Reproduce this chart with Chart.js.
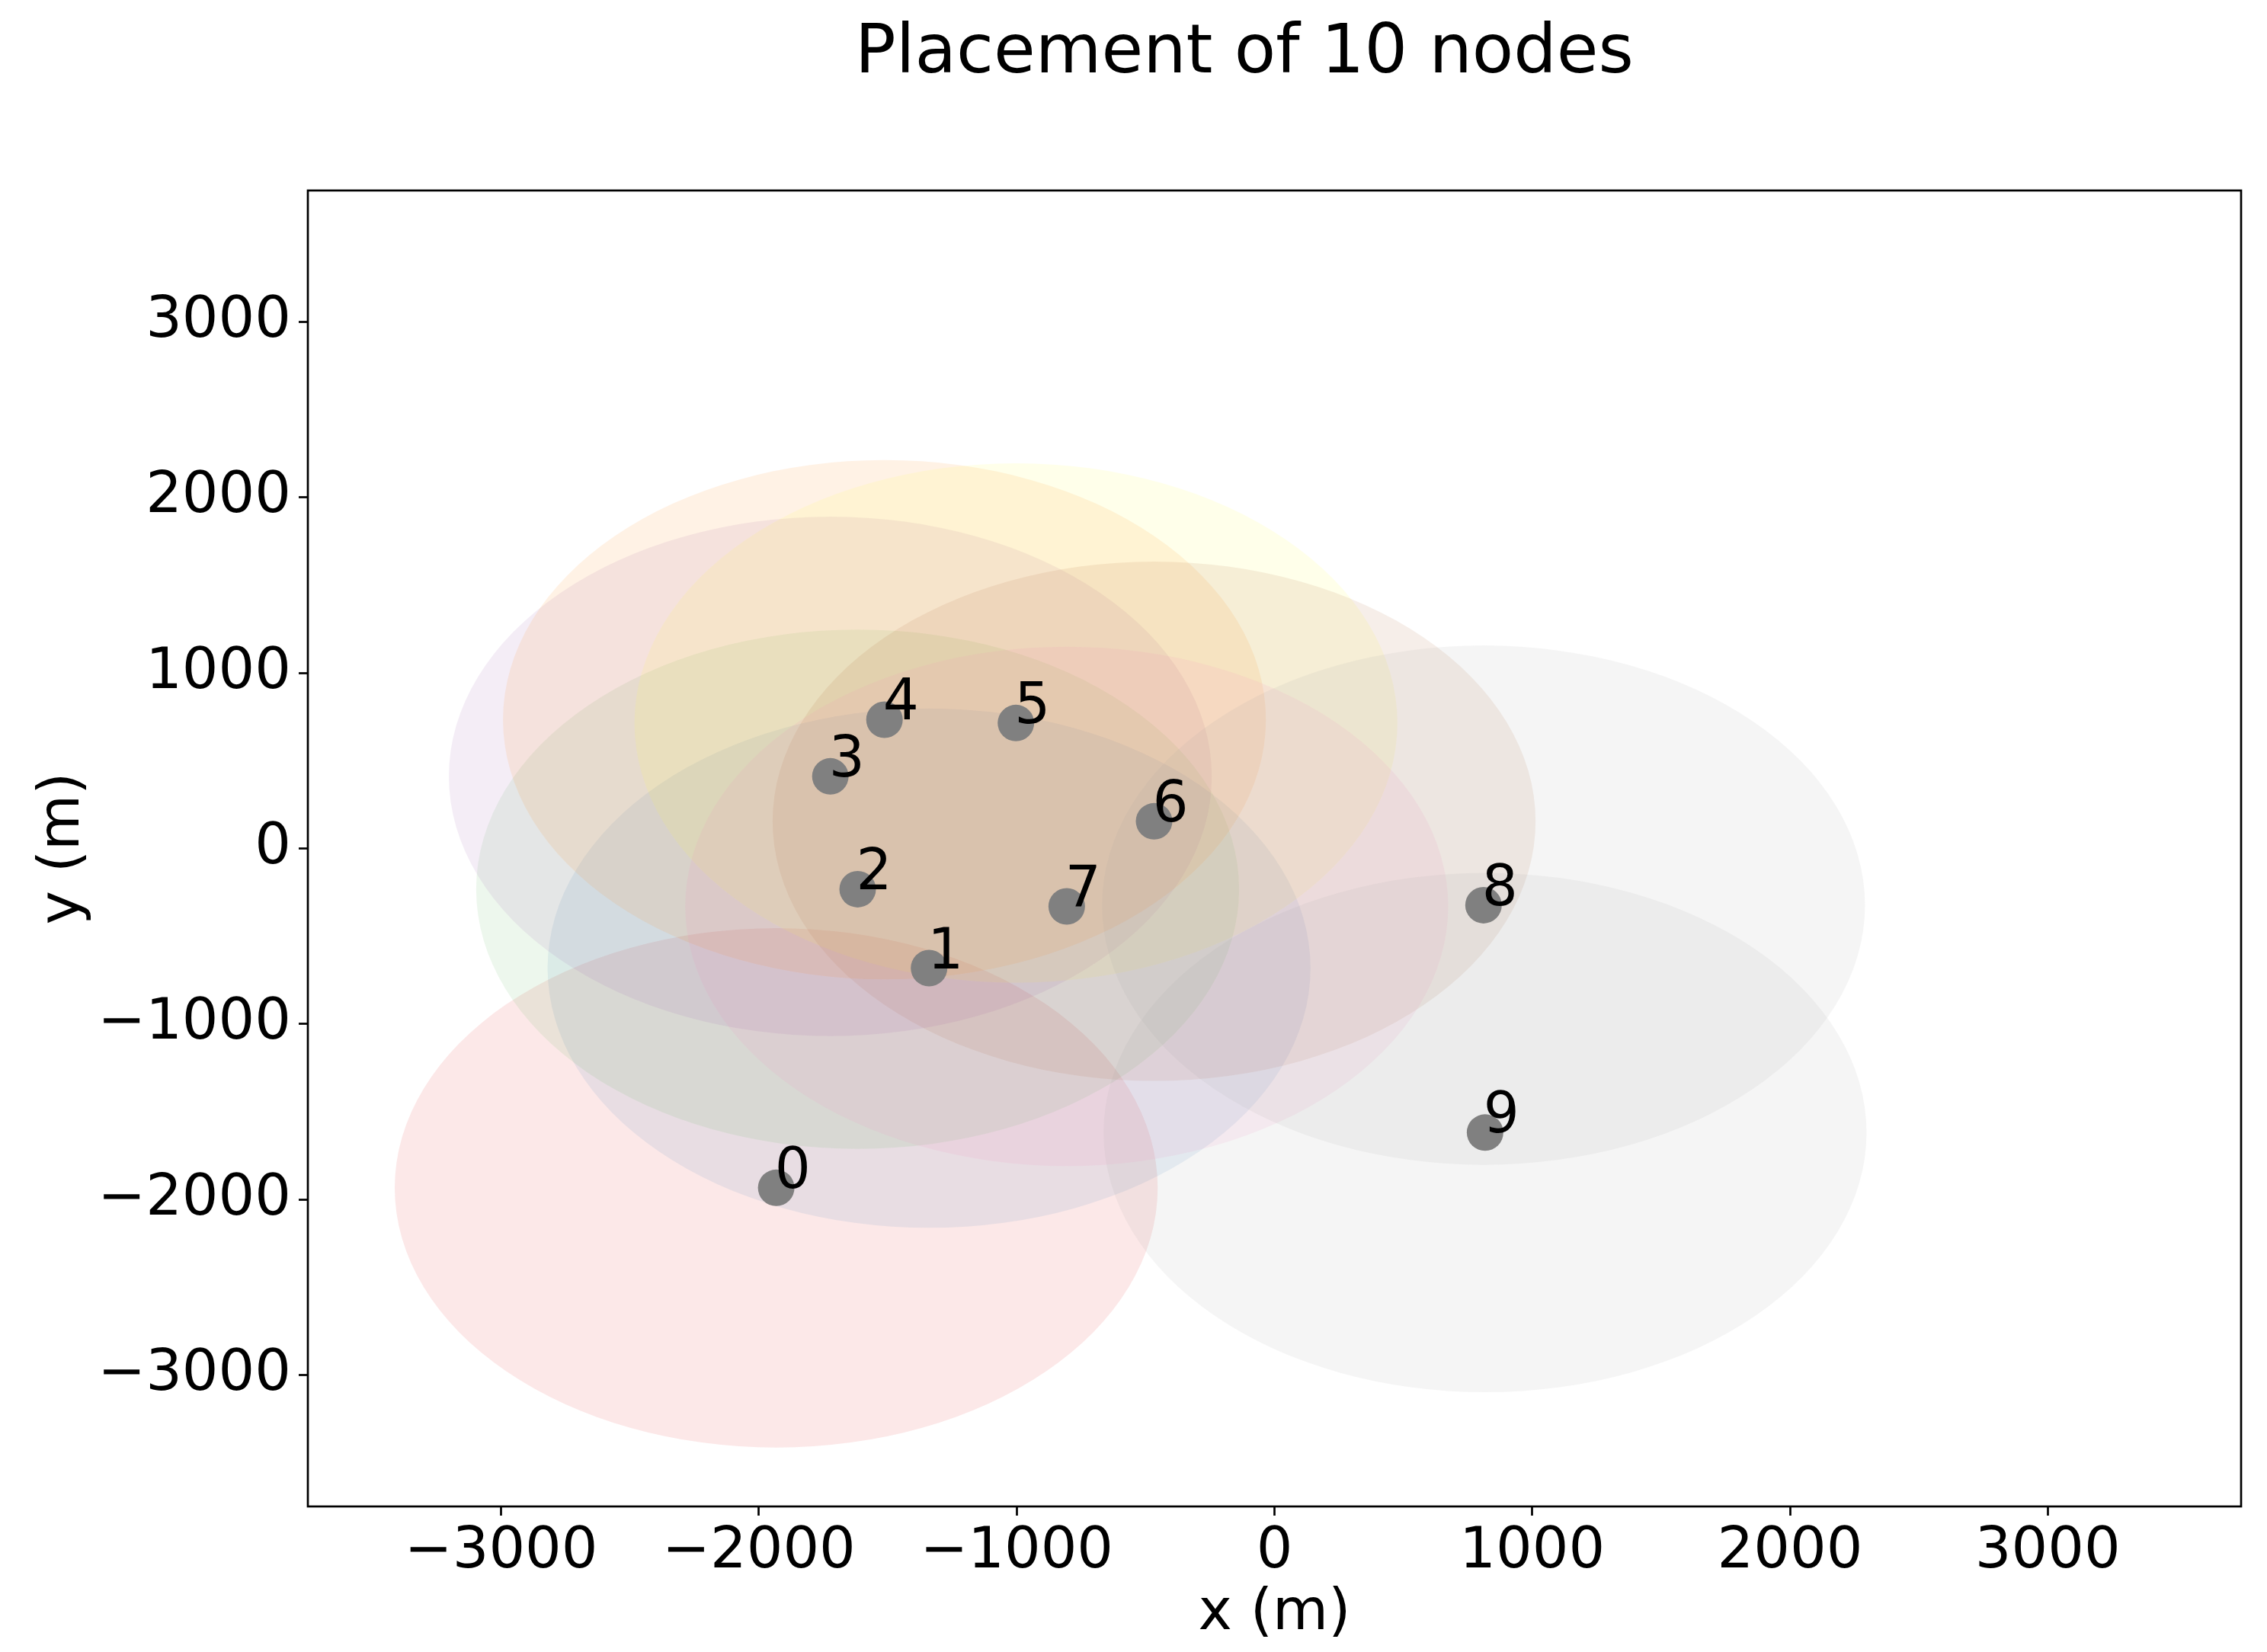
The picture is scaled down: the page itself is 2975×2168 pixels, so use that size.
<!DOCTYPE html>
<html>
<head>
<meta charset="utf-8">
<title>Placement of 10 nodes</title>
<script src="https://cdn.jsdelivr.net/npm/chart.js@4.4.1/dist/chart.umd.min.js"></script>
<style>
  html, body { margin: 0; padding: 0; background: #ffffff; }
  #chart { display: block; }
</style>
</head>
<body>
<canvas id="chart" width="2975" height="2168"></canvas>
<script>
// =========================
// DATA
// =========================
const chartTitle = "Placement of 10 nodes";
const xLabel = "x (m)";
const yLabel = "y (m)";

const nodeIds = [0, 1, 2, 3, 4, 5, 6, 7, 8, 9];
const nodeX = [-1933, -1340, -1617, -1723, -1513, -1003, -467, -806, 811, 817];
const nodeY = [-1934, -682, -232, 411, 734, 715, 155, -330, -323, -1619];

// coverage radius of each node (m)
const rangeRadius = [1480, 1480, 1480, 1480, 1480, 1480, 1480, 1480, 1480, 1480];
const rangeColors = ['#e41a1c', '#377eb8', '#4daf4a', '#984ea3', '#ff7f00',
                     '#ffff33', '#a65628', '#f781bf', '#999999', '#999999'];

const xTicks = [-3000, -2000, -1000, 0, 1000, 2000, 3000];
const yTicks = [-3000, -2000, -1000, 0, 1000, 2000, 3000];
const xLimits = [-3750, 3750];
const yLimits = [-3750, 3750];

// =========================
// HELPERS
// =========================
const FONT = "'DejaVu Sans', 'Liberation Sans', sans-serif";

function fmtTick(v){
    // matplotlib uses the real minus sign
    return v < 0 ? '\u2212' + Math.abs(v) : String(v);
}

// coverage circles, drawn in data units so they come out as ellipses
const rangePlugin = {
    id: 'ranges',
    beforeDatasetsDraw(chart){
        const ctx = chart.ctx;
        const xs = chart.scales.x, ys = chart.scales.y;
        const area = chart.chartArea;
        ctx.save();
        ctx.beginPath();
        ctx.rect(area.left, area.top, area.right - area.left, area.bottom - area.top);
        ctx.clip();
        nodeIds.forEach((id, i) => {
            const cx = xs.getPixelForValue(nodeX[i]);
            const cy = ys.getPixelForValue(nodeY[i]);
            const rx = Math.abs(xs.getPixelForValue(nodeX[i] + rangeRadius[i]) - cx);
            const ry = Math.abs(ys.getPixelForValue(nodeY[i] + rangeRadius[i]) - cy);
            ctx.globalAlpha = 0.1;
            ctx.fillStyle = rangeColors[i];
            ctx.beginPath();
            ctx.ellipse(cx, cy, rx, ry, 0, 0, Math.PI * 2);
            ctx.fill();
        });
        ctx.restore();
    }
};

// node numbers, frame and title
const labelPlugin = {
    id: 'labels',
    afterDatasetsDraw(chart){
        const ctx = chart.ctx;
        const xs = chart.scales.x, ys = chart.scales.y;
        ctx.save();
        ctx.font = `74px ${FONT}`;
        ctx.fillStyle = '#000000';
        ctx.textAlign = 'left';
        ctx.textBaseline = 'alphabetic';
        nodeIds.forEach((id, i) => {
            ctx.fillText(String(id), xs.getPixelForValue(nodeX[i]) - 2, ys.getPixelForValue(nodeY[i]));
        });
        ctx.restore();
    },
    afterDraw(chart){
        const ctx = chart.ctx;
        const a = chart.chartArea;
        ctx.save();
        ctx.strokeStyle = '#000000';
        ctx.lineWidth = 2.7;
        ctx.strokeRect(a.left, a.top, a.right - a.left, a.bottom - a.top);

        ctx.font = `89px ${FONT}`;
        ctx.fillStyle = '#000000';
        ctx.textAlign = 'center';
        ctx.textBaseline = 'alphabetic';
        ctx.fillText(chartTitle, 1633, 95);
        ctx.restore();
    }
};

function axisOptions(limits, ticks, label, isX){
    return {
        type: 'linear',
        min: limits[0],
        max: limits[1],
        afterBuildTicks(scale){
            scale.ticks = ticks.map(v => ({ value: v }));
        },
        afterFit(scale){
            if (isX) scale.height = 191;
            else scale.width = 404;
        },
        grid: {
            display: true,
            drawOnChartArea: false,
            drawTicks: true,
            tickLength: 12,
            tickWidth: 2.7,
            tickColor: '#000000'
        },
        border: { display: false },
        ticks: {
            color: '#000000',
            font: { family: FONT, size: 75 },
            padding: isX ? 4 : 10,
            maxRotation: 0,
            autoSkip: false,
            callback: v => fmtTick(v)
        },
        title: {
            display: true,
            text: label,
            color: '#000000',
            font: { family: FONT, size: 75, lineHeight: 1 },
            padding: isX ? { top: 0, bottom: 12 } : { top: 46, bottom: 0 }
        }
    };
}

// =========================
// CHART
// =========================
const ctx = document.getElementById('chart').getContext('2d');
new Chart(ctx, {
    type: 'scatter',
    data: {
        datasets: [{
            label: 'nodes',
            data: nodeIds.map((id, i) => ({ x: nodeX[i], y: nodeY[i] })),
            backgroundColor: '#808080',
            borderWidth: 0,
            pointRadius: 24,
            pointHoverRadius: 24
        }]
    },
    options: {
        responsive: false,
        devicePixelRatio: 1,
        animation: false,
        layout: { padding: { top: 250, right: 34, bottom: 0, left: 0 } },
        plugins: {
            legend: { display: false },
            tooltip: { enabled: false },
            title: { display: false }
        },
        scales: {
            x: axisOptions(xLimits, xTicks, xLabel, true),
            y: axisOptions(yLimits, yTicks, yLabel, false)
        }
    },
    plugins: [rangePlugin, labelPlugin]
});
</script>
</body>
</html>
